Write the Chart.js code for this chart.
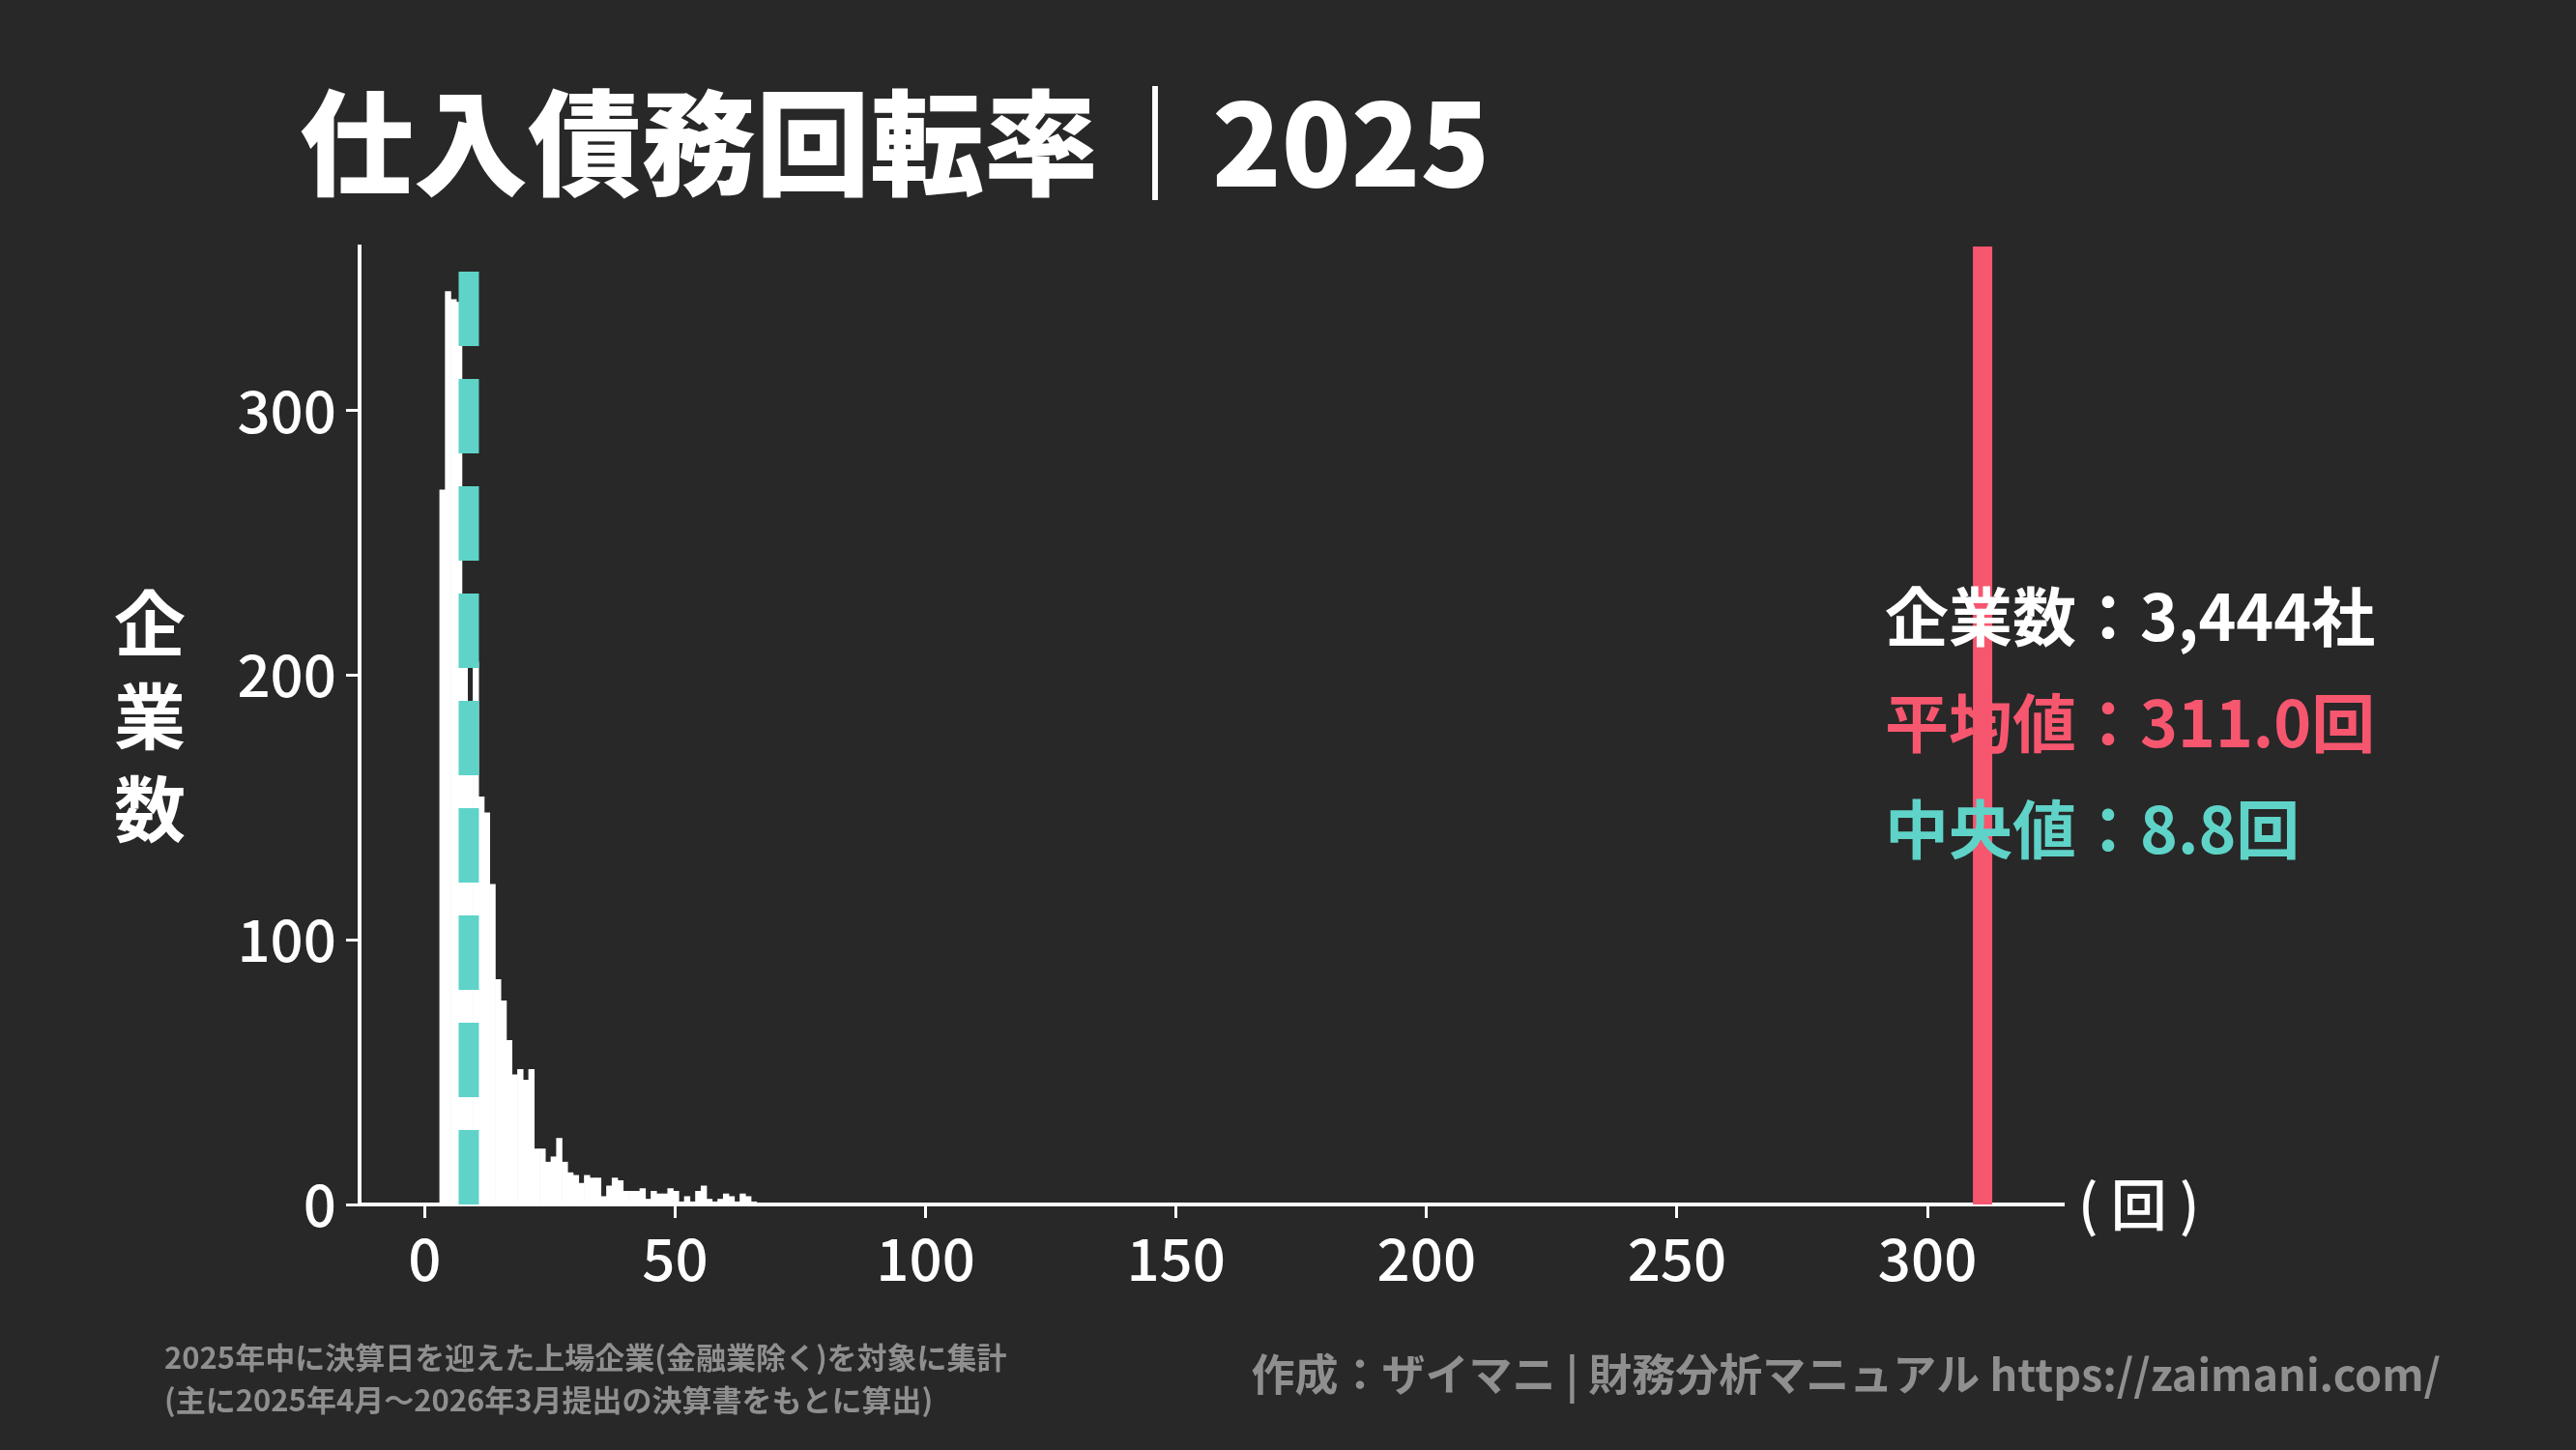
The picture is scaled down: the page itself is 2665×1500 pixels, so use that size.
<!DOCTYPE html>
<html><head><meta charset="utf-8">
<script src="https://cdn.jsdelivr.net/npm/chart.js@4"></script>
<style>html,body{margin:0;padding:0;background:#282828;overflow:hidden}</style>
</head><body>
<canvas id="c" width="2665" height="1500"></canvas>
<script>
const binStart = 3.0;
const binWidth = 1.11;
const counts = [270,345,342,341,215,181,205,154,148,121,85,77,62,49,51,47,51,21,21,16,18,25,16,12,11,8,11,10,10,3,7,10,9,5,5,5,6,2,5,4,4,6,5,1,3,1,5,7,2,1,2,4,3,1,4,3,1];
const meanValue = 311.0;
const medianValue = 8.8;
const xTicks = [0,50,100,150,200,250,300];
const yTicks = [0,100,200,300];
const titleText = "仕入債務回転率｜2025";
const infoLines = ["企業数：3,444社","平均値：311.0回","中央値：8.8回"];

const RED = "#f7566f", TEAL = "#5fd3c8", FONT = "'Noto Sans CJK JP','Noto Sans',sans-serif";
const barData = counts.map((v,i)=>({x: binStart + binWidth*(i+0.5), y: v}));

const textPlugin = {
  id:'texts',
  afterDraw(chart){
    const ctx = chart.ctx; ctx.save();
    ctx.textBaseline='middle';
    ctx.fillStyle='#fff'; ctx.font=`900 118px ${FONT}`; ctx.textAlign='left';
    ctx.fillText(titleText, 310, 148);
    ctx.font=`bold 74px ${FONT}`; ctx.textAlign='center';
    ["企","業","数"].forEach((ch,i)=>ctx.fillText(ch,155,645+i*96));
    const cols=['#ffffff',RED,TEAL];
    ctx.font=`bold 66px ${FONT}`; ctx.textAlign='left';
    infoLines.forEach((t,i)=>{ctx.fillStyle=cols[i]; ctx.fillText(t,1950,638+i*110);});
    ctx.fillStyle='#fff'; ctx.font=`500 58px ${FONT}`;
    ctx.fillText("( 回 )",2150,1246);
    ctx.fillStyle='#8f8f8f'; ctx.font=`bold 31px ${FONT}`;
    ctx.fillText("2025年中に決算日を迎えた上場企業(金融業除く)を対象に集計",170,1404);
    ctx.fillText("(主に2025年4月〜2026年3月提出の決算書をもとに算出)",170,1448);
    ctx.font=`bold 45px ${FONT}`; ctx.textAlign='right';
    ctx.fillText("作成：ザイマニ | 財務分析マニュアル https://zaimani.com/",2525,1422);
    ctx.restore();
  }
};

new Chart(document.getElementById('c'),{
  data:{datasets:[
    {type:'bar',data:barData,backgroundColor:'#ffffff',borderWidth:0,barPercentage:1,categoryPercentage:1,grouped:false,order:3},
    {type:'line',data:[{x:medianValue,y:0},{x:medianValue,y:362}],borderColor:TEAL,borderWidth:21,borderDash:[77,34],pointRadius:0,order:1},
    {type:'line',data:[{x:meanValue,y:0},{x:meanValue,y:362}],borderColor:RED,borderWidth:20,pointRadius:0,order:2}
  ]},
  options:{
    responsive:false,animation:false,devicePixelRatio:1,
    layout:{padding:{top:255,right:531,left:0,bottom:0}},
    plugins:{legend:{display:false},tooltip:{enabled:false}},
    scales:{
      x:{type:'linear',min:-13,max:327,offset:false,bounds:'ticks',
        afterBuildTicks:s=>{s.ticks=xTicks.map(v=>({value:v}));},
        afterFit:s=>{s.height=254;},
        border:{color:'#fff',width:4},
        grid:{offset:false,drawOnChartArea:false,drawTicks:true,tickLength:14,color:'#fff',lineWidth:3},
        ticks:{color:'#fff',font:{family:FONT,size:60,weight:'500'},padding:6,maxRotation:0}},
      y:{type:'linear',min:0,max:362,
        afterBuildTicks:s=>{s.ticks=yTicks.map(v=>({value:v}));},
        afterFit:s=>{s.width=372;},
        border:{color:'#fff',width:4},
        grid:{drawOnChartArea:false,drawTicks:true,tickLength:14,color:'#fff',lineWidth:3},
        ticks:{color:'#fff',font:{family:FONT,size:60,weight:'500'},padding:10}}
    }
  },
  plugins:[textPlugin]
});
</script></body></html>
